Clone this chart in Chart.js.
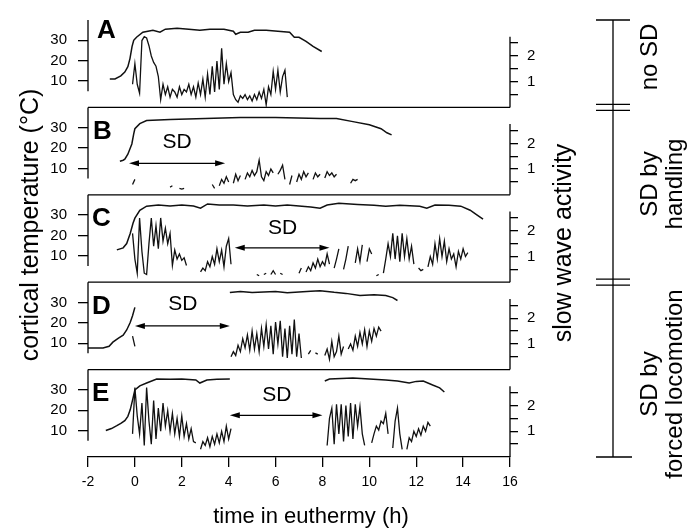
<!DOCTYPE html>
<html><head><meta charset="utf-8">
<script src="https://cdn.jsdelivr.net/npm/chart.js@4.4.1/dist/chart.umd.min.js"></script>
<style>html,body{margin:0;padding:0;background:#fff;}canvas{display:block;}</style>
</head><body>
<canvas id="c" width="694" height="531"></canvas>
<script>
const FONT = '"Liberation Sans", Arial, Helvetica, sans-serif';
const panels = ['A', 'B', 'C', 'D', 'E'];
const xTicks = [-2, 0, 2, 4, 6, 8, 10, 12, 14, 16];
const tempTicks = [10, 20, 30];
const swaTicks = [0.5, 1, 1.5, 2, 2.5];
const swaLabelled = [1, 2];

// cortical temperature traces: [time (h), °C]
const tempA = [[-1.07,11],[-0.85,11],[-0.6,12.5],[-0.43,14.4],[-0.3,17],[-0.21,21],[-0.12,27],[-0.05,30],[0.07,31.5],[0.34,34],[0.77,35],[1.07,34],[1.3,35.5],[1.8,36],[2.3,35.5],[2.77,35],[3.2,35.5],[3.8,35.5],[4.2,34.5],[4.3,33],[4.5,34],[4.83,34],[5.1,35],[5.6,35],[6.1,34.5],[6.6,34],[6.8,31.5],[7.0,31.5],[7.3,29.5],[7.6,27],[7.97,24.5]];
const tempB = [[-0.64,13.5],[-0.5,14],[-0.43,14.5],[-0.3,17],[-0.13,22],[-0.05,27],[0,29.5],[0.21,32],[0.5,33.5],[1.5,34],[3,34.5],[4.5,35],[6,35],[7.9,34.5],[8.6,34.5],[9.3,33],[10,31.5],[10.5,29.5],[10.75,27.5],[10.95,26.5]];
const tempC = [[-0.77,12.9],[-0.5,13.9],[-0.35,16],[-0.2,21],[-0.08,26],[0,28.5],[0.21,32.4],[0.5,34.4],[1,35],[1.5,34.5],[2,35],[2.5,34.5],[2.8,33.4],[3.1,35.5],[3.6,35],[4.2,35],[4.8,34.5],[5.5,35],[6,34.5],[6.5,35],[7,34.5],[7.5,34],[7.9,33.4],[8.2,35],[8.7,35.8],[9.5,35.2],[10.2,34.8],[10.7,34.4],[11.3,34.8],[12.15,34.4],[12.45,33.4],[12.8,35],[13.4,34.8],[13.9,34.4],[14.3,32.4],[14.6,30],[14.85,28]];
const tempD = [[-2,7.6],[-1.36,7.6],[-1.1,8.5],[-0.94,10.5],[-0.7,12.5],[-0.5,13.9],[-0.35,16.5],[-0.2,20.2],[-0.1,23.5],[0,27.6],[2,null],[4.05,34.9],[4.5,35.4],[5,34.9],[5.5,35.2],[6,35.4],[6.5,34.8],[7,35.2],[7.5,35.5],[7.9,35.8],[8.5,35],[9,34.5],[9.6,33.4],[10.2,33.8],[10.7,33.4],[11.0,32.4],[11.2,31]];
const tempE = [[-1.24,10],[-1.0,11],[-0.77,12.4],[-0.6,13.5],[-0.43,14.9],[-0.3,17],[-0.2,20.2],[-0.1,25],[0,30],[0.21,32],[0.5,33.4],[0.93,35.4],[1.5,35.2],[2.0,35.4],[2.6,34.9],[2.77,33.4],[3.07,34.9],[3.5,35.2],[4.05,35.4],[6,null],[8.1,34.4],[8.3,35.4],[9.3,35.9],[10,35.4],[10.7,34.9],[11.2,34.4],[11.7,33.4],[12.0,34.2],[12.3,34.4],[12.7,32.4],[13.0,31],[13.2,29]];

// slow wave activity, sampled every 0.1 h starting at -0.1 h (null = no trace)
const swaStart = -0.1;
const swaStep = 0.1;
const swaA = [0.9,1.7,0.9,0.55,2.6,2.75,2.7,2.4,2.0,1.75,
  1.6,1.2,0.3,0.9,0.5,0.8,0.4,0.7,0.6,0.4,
  0.8,0.5,0.7,0.6,0.9,0.5,0.8,0.4,0.95,0.5,
  1.1,0.4,1.3,0.5,1.6,0.6,1.8,0.7,2.3,0.9,
  1.7,1.0,1.35,0.5,0.3,0.2,0.45,0.35,0.5,0.3,
  0.45,0.25,0.5,0.3,0.6,0.35,0.7,0.1,0.8,0.5,
  1.4,0.7,1.45,0.6,1.2,1.45,0.4];
const swaB = [0.4,0.6,null,null,null,null,null,null,null,null,
  null,null,null,null,null,null,0.3,0.35,null,null,
  0.25,0.22,0.25,null,null,null,null,null,null,null,
  null,null,null,null,0.4,0.25,null,0.35,0.6,0.45,
  0.7,0.5,null,0.45,0.8,0.55,0.75,null,0.6,0.85,
  0.7,0.95,0.75,0.9,1.35,0.7,0.55,0.9,0.75,1.0,
  0.85,null,0.8,0.95,1.15,0.6,null,0.4,0.75,null,
  0.5,0.8,0.6,0.9,0.7,0.85,null,0.6,0.85,0.7,
  0.8,null,0.65,0.9,0.75,0.85,0.7,0.8,null,null,
  null,null,null,0.45,0.6,0.55,0.6];
const swaC = [1.9,0.9,0.35,2.5,1.2,0.35,0.3,1.5,2.5,1.4,
  2.2,1.3,2.5,1.6,2.1,1.5,1.9,0.65,1.25,0.9,
  1.1,0.85,0.95,0.65,null,null,null,null,null,0.4,
  0.55,0.45,0.8,0.6,1.0,0.7,1.3,0.8,1.25,0.6,
  1.4,1.7,0.7,null,null,null,null,null,null,null,
  null,null,null,0.3,0.25,null,0.3,0.35,null,0.3,
  0.45,0.3,null,0.35,0.3,null,null,null,null,null,
  null,0.35,0.55,null,0.4,0.6,0.45,0.75,0.55,0.9,
  0.6,0.8,0.65,1.1,0.7,null,0.55,0.9,1.3,null,
  0.5,0.9,1.4,null,null,0.75,1.3,0.8,1.45,null,
  0.8,1.3,1.1,null,0.25,0.3,null,0.35,0.9,1.5,
  1.0,1.9,0.9,1.8,0.8,1.9,1.0,1.7,0.9,1.4,
  0.7,null,0.55,0.45,0.5,null,0.6,1.0,0.7,1.5,
  0.9,1.7,1.0,1.6,0.8,1.3,0.9,1.1,0.6,1.2,
  0.9,1.3,1.0,1.15];
const swaD = [1.3,0.9,null,null,null,null,null,null,null,null,
  null,null,null,null,null,null,null,null,null,null,
  null,null,null,null,null,null,null,null,null,null,
  null,null,null,null,null,null,null,null,null,null,
  null,null,0.5,0.7,0.55,0.95,0.7,1.2,0.85,1.35,
  0.75,1.5,0.8,1.4,0.7,1.6,0.9,1.75,0.8,1.7,
  0.6,1.85,1.0,1.9,0.5,1.6,0.45,1.7,0.6,1.95,
  0.5,1.4,0.45,null,null,0.6,0.75,null,0.65,0.6,
  null,null,0.55,0.8,0.4,1.1,0.5,0.7,1.3,0.6,
  0.9,null,0.8,1.0,0.75,1.3,0.9,1.45,1.0,1.55,
  0.9,1.5,1.1,1.6,1.3,1.65,1.5];
const swaE = [0.9,2.7,1.6,0.9,2.1,0.45,2.7,1.4,0.5,2.2,
  0.7,1.9,1.0,2.1,1.2,1.8,1.0,1.7,0.9,1.5,
  0.8,1.6,0.8,1.3,0.7,1.1,0.6,0.55,null,0.3,
  0.6,0.45,0.75,0.4,0.8,0.5,0.9,0.55,1.0,0.6,
  1.2,0.7,1.1,null,null,null,null,null,null,null,
  null,null,null,null,null,null,null,null,null,null,
  null,null,null,null,null,null,null,null,null,null,
  null,null,null,null,null,null,null,null,null,null,
  null,null,null,0.45,1.5,1.9,0.5,2.05,0.9,2.05,
  0.6,2.0,0.8,2.1,0.7,2.05,1.2,1.95,0.9,0.45,
  null,null,0.55,0.9,1.2,1.05,1.4,1.3,1.7,0.9,
  null,0.35,1.4,1.9,0.9,0.3,null,0.3,0.75,0.6,
  1.0,0.8,1.1,0.85,1.2,1.0,1.35,1.2];

const tempSeries = [tempA, tempB, tempC, tempD, tempE];
const swaSeries = [swaA, swaB, swaC, swaD, swaE];

// annotations (in data units)
const sdPanels = ['B', 'C', 'D', 'E'];
const sdFrom = [-0.25, 4.26, 0.0, 4.05];
const sdTo = [3.85, 8.3, 4.05, 8.0];
const sdLevel = [12.5, 13.9, 18.5, 17.5];
const sdTextX = [1.8, 6.3, 2.05, 6.05];
const sdTextY = [23, 23.7, 29, 27.6];
const letterBase = [31, 24.5, 24.5, 24.3, 24.5];
const letterDx = [9, 5, 4, 4, 4];

const toPts = arr => arr.map(p => ({x: p[0], y: p[1]}));
const swaPts = arr => arr.map((v, i) => ({x: +(swaStart + i * swaStep).toFixed(2), y: v}));

const datasets = [];
panels.forEach((p, k) => {
  datasets.push({data: toPts(tempSeries[k]), xAxisID: 'x', yAxisID: 't' + p, borderColor: '#111', borderWidth: 1.5, pointRadius: 0, tension: 0, spanGaps: false, fill: false});
  datasets.push({data: swaPts(swaSeries[k]), xAxisID: 'x', yAxisID: 's' + p, borderColor: '#111', borderWidth: 1.3, pointRadius: 0, tension: 0, spanGaps: false, fill: false});
});

const scales = {
  x: {
    type: 'linear', position: 'bottom', min: -2, max: 16,
    afterBuildTicks: s => { s.ticks = xTicks.map(v => ({value: v})); },
    ticks: {autoSkip: false, maxRotation: 0, padding: 7, color: '#000', font: {size: 14, family: FONT}},
    grid: {display: true, drawOnChartArea: false, drawTicks: true, tickLength: 10, color: '#000', lineWidth: 1.3},
    border: {display: true, color: '#000', width: 1.3},
    afterFit: s => { s.height = 74; }
  }
};
panels.forEach((p, k) => {
  scales['t' + p] = {
    type: 'linear', position: 'left', stack: 'L', stackWeight: 1, weight: 5 - k, min: -3, max: 40,
    afterBuildTicks: s => { s.ticks = tempTicks.map(v => ({value: v})); },
    ticks: {autoSkip: false, padding: 11, color: '#000', font: {size: 15, family: FONT}},
    grid: {display: true, drawOnChartArea: false, drawTicks: true, tickLength: 10, color: '#000', lineWidth: 1.3},
    border: {display: false},
    afterFit: s => { s.width = 88; }
  };
  scales['s' + p] = {
    type: 'linear', position: 'right', stack: 'R', stackWeight: 1, weight: k + 1, min: 0, max: 3.4,
    afterBuildTicks: s => { s.ticks = swaTicks.map(v => ({value: v})); },
    ticks: {autoSkip: false, padding: 9, color: '#000', font: {size: 15, family: FONT}, callback: v => swaLabelled.includes(v) ? String(v) : ''},
    grid: {display: true, drawOnChartArea: false, drawTicks: true, tickLength: 8, color: '#000', lineWidth: 1.3},
    border: {display: false},
    afterFit: s => { s.width = 184; }
  };
});

function vText(ctx, txt, x, y, font) {
  ctx.save();
  ctx.translate(x, y);
  ctx.rotate(-Math.PI / 2);
  ctx.font = font;
  ctx.textAlign = 'center';
  ctx.textBaseline = 'alphabetic';
  ctx.fillText(txt, 0, 0);
  ctx.restore();
}

const deco = {
  id: 'deco',
  afterDraw(chart) {
    const {ctx, chartArea: ca, scales: sc} = chart;
    const X = v => sc.x.getPixelForValue(v);
    ctx.save();
    ctx.strokeStyle = '#000';
    ctx.fillStyle = '#000';
    ctx.lineWidth = 1.3;
    panels.forEach((p, k) => {
      const ts = sc['t' + p], ss = sc['s' + p];
      ctx.beginPath();
      if (k > 0) { ctx.moveTo(ca.left, ts.top); ctx.lineTo(ca.right, ts.top); }
      ctx.moveTo(ca.left, ts.top); ctx.lineTo(ca.left, ts.getPixelForValue(5));
      ctx.moveTo(ca.right, ss.getPixelForValue(2.75)); ctx.lineTo(ca.right, ss.bottom);
      ctx.stroke();
      ctx.font = 'bold 26px ' + FONT;
      ctx.textAlign = 'left';
      ctx.textBaseline = 'alphabetic';
      ctx.fillText(p, ca.left + letterDx[k], ts.getPixelForValue(letterBase[k]));
    });
    // SD arrows
    sdPanels.forEach((p, i) => {
      const ts = sc['t' + p];
      const y = ts.getPixelForValue(sdLevel[i]);
      const x0 = X(sdFrom[i]), x1 = X(sdTo[i]);
      ctx.lineWidth = 1.2;
      ctx.beginPath(); ctx.moveTo(x0 + 4, y); ctx.lineTo(x1 - 4, y); ctx.stroke();
      ctx.beginPath(); ctx.moveTo(x0, y); ctx.lineTo(x0 + 10, y - 3); ctx.lineTo(x0 + 10, y + 3); ctx.closePath(); ctx.fill();
      ctx.beginPath(); ctx.moveTo(x1, y); ctx.lineTo(x1 - 10, y - 3); ctx.lineTo(x1 - 10, y + 3); ctx.closePath(); ctx.fill();
      ctx.font = '21px ' + FONT;
      ctx.textAlign = 'center';
      ctx.textBaseline = 'middle';
      ctx.fillText('SD', X(sdTextX[i]), ts.getPixelForValue(sdTextY[i]));
    });
    // axis titles
    vText(ctx, 'cortical temperature (\u00B0C)', 38, 225, '25px ' + FONT);
    vText(ctx, 'slow wave activity', 571, 243, '25px ' + FONT);
    ctx.font = '22px ' + FONT;
    ctx.textAlign = 'center';
    ctx.textBaseline = 'middle';
    ctx.fillText('time in euthermy (h)', 311, 517);
    // right-hand brackets
    const bx = ca.right + 103;
    const b1 = sc.sB.top, b2 = sc.sD.top;
    ctx.lineWidth = 1.3;
    ctx.beginPath();
    ctx.moveTo(bx - 17, ca.top); ctx.lineTo(bx + 17, ca.top);
    ctx.moveTo(bx, ca.top); ctx.lineTo(bx, ca.bottom);
    ctx.moveTo(bx - 17, ca.bottom); ctx.lineTo(bx + 19, ca.bottom);
    [b1, b2].forEach(b => {
      ctx.moveTo(bx - 17, b - 3); ctx.lineTo(bx + 17, b - 3);
      ctx.moveTo(bx - 17, b + 3); ctx.lineTo(bx + 17, b + 3);
    });
    ctx.stroke();
    const f = '24px ' + FONT;
    vText(ctx, 'no SD', bx + 44, 57, f);
    vText(ctx, 'SD by', bx + 44, 184, f);
    vText(ctx, 'handling', bx + 69, 184, f);
    vText(ctx, 'SD by', bx + 44, 384, f);
    vText(ctx, 'forced locomotion', bx + 69, 384, f);
    ctx.restore();
  }
};

new Chart(document.getElementById('c'), {
  type: 'line',
  data: {datasets},
  options: {
    responsive: false,
    animation: false,
    events: [],
    layout: {padding: {top: 15, left: 0, right: 0, bottom: 0}},
    plugins: {legend: {display: false}, tooltip: {enabled: false}},
    scales
  },
  plugins: [deco]
});
</script>
</body></html>
